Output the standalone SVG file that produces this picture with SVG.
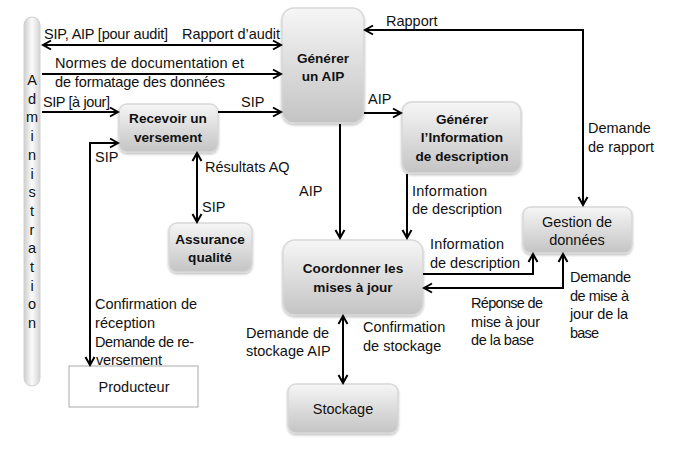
<svg xmlns="http://www.w3.org/2000/svg" width="690" height="464" viewBox="0 0 690 464">
<style>
text{font-family:"Liberation Sans",Arial,sans-serif;font-size:14.5px;fill:#111}
.b{font-weight:bold;font-size:13.6px;text-anchor:middle}
.c{text-anchor:middle}
.box{fill:url(#g);stroke:#d8d8d8;stroke-width:1.5;filter:url(#sh)}
.ln{fill:none;stroke:#000;stroke-width:2}
</style>
<defs>
<linearGradient id="g" x1="0" y1="0" x2="0" y2="1">
<stop offset="0" stop-color="#f6f6f6"/><stop offset="0.55" stop-color="#dadada"/><stop offset="1" stop-color="#c4c4c4"/>
</linearGradient>
<linearGradient id="gb" x1="0" y1="0" x2="1" y2="0">
<stop offset="0" stop-color="#cfcfcf"/><stop offset="0.5" stop-color="#fbfbfb"/><stop offset="1" stop-color="#d4d4d4"/>
</linearGradient>
<filter id="sh" x="-10%" y="-10%" width="120%" height="125%">
<feDropShadow dx="0" dy="1.5" stdDeviation="1.2" flood-color="#000" flood-opacity="0.25"/>
</filter>
<marker id="ah" viewBox="-10 -6 12 12" refX="0" refY="0" markerWidth="12" markerHeight="12" markerUnits="userSpaceOnUse" orient="auto-start-reverse">
<path d="M-8,-4.5 L0,0 L-8,4.5" fill="none" stroke="#000" stroke-width="2"/>
</marker>
</defs>
<rect width="690" height="464" fill="#fff"/>

<g id="administration">
<rect x="24" y="17" width="16" height="369" rx="8" fill="url(#gb)" stroke="#d0d0d0"/>
<text class="c" x="32" y="85">A</text>
<text class="c" x="32" y="103.7">d</text>
<text class="c" x="32" y="122.4">m</text>
<text class="c" x="32" y="141.1">i</text>
<text class="c" x="32" y="159.8">n</text>
<text class="c" x="32" y="178.5">i</text>
<text class="c" x="32" y="197.2">s</text>
<text class="c" x="32" y="215.9">t</text>
<text class="c" x="32" y="234.6">r</text>
<text class="c" x="32" y="253.3">a</text>
<text class="c" x="32" y="272">t</text>
<text class="c" x="32" y="290.7">i</text>
<text class="c" x="32" y="309.4">o</text>
<text class="c" x="32" y="328.1">n</text>
</g>

<g id="generer-aip">
<rect class="box" x="282" y="8" width="82" height="115" rx="12"/>
<text class="b" x="323" y="63">Générer</text>
<text class="b" x="323" y="81">un AIP</text>
</g>

<g id="recevoir">
<rect class="box" x="119" y="104" width="99" height="48" rx="8"/>
<text class="b" x="168" y="123">Recevoir un</text>
<text class="b" x="168" y="142">versement</text>
</g>

<g id="generer-info">
<rect class="box" x="402" y="102" width="119" height="71" rx="10"/>
<text class="b" x="462" y="124">Générer</text>
<text class="b" x="462" y="142">l’Information</text>
<text class="b" x="462" y="161">de description</text>
</g>

<g id="assurance">
<rect class="box" x="169" y="223" width="83" height="49" rx="8"/>
<text class="b" x="210" y="244">Assurance</text>
<text class="b" x="210" y="262">qualité</text>
</g>

<g id="coordonner">
<rect class="box" x="283" y="240" width="140" height="75" rx="12"/>
<text class="b" x="353" y="273">Coordonner les</text>
<text class="b" x="353" y="292">mises à jour</text>
</g>

<g id="gestion">
<rect class="box" x="523" y="207" width="109" height="46" rx="8"/>
<text class="c" x="577" y="227">Gestion de</text>
<text class="c" x="577" y="245">données</text>
</g>

<g id="stockage">
<rect class="box" x="288" y="384" width="110" height="49" rx="8"/>
<text class="c" x="343" y="414">Stockage</text>
</g>

<g id="producteur">
<rect x="69" y="366" width="129" height="41" fill="#fff" stroke="#aaa" stroke-width="1"/>
<text class="c" x="134" y="392">Producteur</text>
</g>

<g id="connectors">
<path class="ln" d="M43,45 H281" marker-start="url(#ah)" marker-end="url(#ah)"/>
<path class="ln" d="M42,74 H281" marker-end="url(#ah)"/>
<path class="ln" d="M42,112 H118" marker-end="url(#ah)"/>
<path class="ln" d="M218,112 H281" marker-end="url(#ah)"/>
<path class="ln" d="M118,143 H90 V365" marker-start="url(#ah)" marker-end="url(#ah)"/>
<path class="ln" d="M197,153 V222" marker-start="url(#ah)" marker-end="url(#ah)"/>
<path class="ln" d="M365,30 H583 V205" marker-start="url(#ah)" marker-end="url(#ah)"/>
<path class="ln" d="M364,113 H401" marker-end="url(#ah)"/>
<path class="ln" d="M340,124 V238" marker-end="url(#ah)"/>
<path class="ln" d="M407,174 V238" marker-end="url(#ah)"/>
<path class="ln" d="M423,274 H533 V254" marker-end="url(#ah)"/>
<path class="ln" d="M424,288 H563 V254" marker-start="url(#ah)" marker-end="url(#ah)"/>
<path class="ln" d="M343,316 V383" marker-start="url(#ah)" marker-end="url(#ah)"/>
</g>

<g id="labels">
<text x="44" y="39" textLength="124">SIP, AIP [pour audit]</text>
<text x="182" y="39" textLength="98">Rapport d’audit</text>
<text x="55" y="68" textLength="189">Normes de documentation et</text>
<text x="55" y="87" textLength="170">de formatage des données</text>
<text x="43" y="107" textLength="67">SIP [à jour]</text>
<text x="241" y="107">SIP</text>
<text x="95" y="162">SIP</text>
<text x="205" y="172">Résultats AQ</text>
<text x="202" y="212">SIP</text>
<text x="95" y="309" textLength="102">Confirmation de</text>
<text x="95" y="328" textLength="60">réception</text>
<text x="95" y="347" textLength="99">Demande de re-</text>
<text x="96" y="365" textLength="66">versement</text>
<text x="386" y="26">Rapport</text>
<text x="368" y="104">AIP</text>
<text x="588" y="133">Demande</text>
<text x="588" y="152">de rapport</text>
<text x="299" y="196">AIP</text>
<text x="412" y="196" textLength="75">Information</text>
<text x="412" y="214" textLength="90">de description</text>
<text x="430" y="249" textLength="74">Information</text>
<text x="430" y="268" textLength="90">de description</text>
<text x="570" y="282" textLength="61">Demande</text>
<text x="570" y="301" textLength="59">de mise à</text>
<text x="570" y="319" textLength="58">jour de la</text>
<text x="570" y="338" textLength="29">base</text>
<text x="471" y="308" textLength="72">Réponse de</text>
<text x="471" y="327" textLength="69">mise à jour</text>
<text x="471" y="345" textLength="63">de la base</text>
<text x="246" y="338">Demande de</text>
<text x="246" y="356">stockage AIP</text>
<text x="363" y="332">Confirmation</text>
<text x="363" y="351">de stockage</text>
</g>
</svg>
